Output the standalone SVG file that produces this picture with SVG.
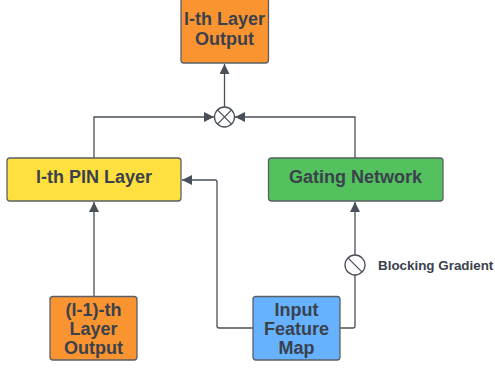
<svg xmlns="http://www.w3.org/2000/svg" width="495" height="368" viewBox="0 0 495 368">
<defs>
<marker id="ah" viewBox="0 0 10 10" refX="10" refY="5" markerWidth="10" markerHeight="10" markerUnits="userSpaceOnUse" orient="auto">
<path d="M0,0 L10,5 L0,10 Z" fill="#4a5059"/>
</marker>
</defs>
<style>
.box{stroke:#5a5f66;stroke-width:1.3}
.t{font-family:"Liberation Sans",Arial,sans-serif;font-weight:bold;font-size:18px;fill:#3a414c;text-anchor:middle}
.c{fill:none;stroke:#4a5059;stroke-width:1.3}
</style>
<g id="connectors">
<path class="c" d="M224.5,107 L224.5,64" marker-end="url(#ah)"/>
<path class="c" d="M94,158 L94,117 L214,117" marker-end="url(#ah)"/>
<path class="c" d="M355,158 L355,117 L235,117" marker-end="url(#ah)"/>
<path class="c" d="M94,296 L94,202" marker-end="url(#ah)"/>
<path class="c" d="M253,328 L219,328 Q217,328 217,326 L217,182 Q217,180 215,180 L182,180" marker-end="url(#ah)"/>
<path class="c" d="M340,328 L353,328 Q355,328 355,326 L355,275"/>
<path class="c" d="M355,255 L355,202" marker-end="url(#ah)"/>
</g>
<g id="mult">
<circle cx="224.5" cy="117" r="10" fill="#fff" stroke="#4a5059" stroke-width="1.3"/>
<path d="M217.4,109.9 L231.6,124.1 M231.6,109.9 L217.4,124.1" stroke="#4a5059" stroke-width="1.3"/>
</g>
<g id="block">
<circle cx="355" cy="265" r="10" fill="#fff" stroke="#4a5059" stroke-width="1.3"/>
<path d="M347.9,257.9 L362.1,272.1" stroke="#4a5059" stroke-width="1.3"/>
<text x="378" y="270" style="font-family:'Liberation Sans',Arial,sans-serif;font-weight:bold;font-size:13.4px;fill:#3a414c">Blocking Gradient</text>
</g>
<g id="out">
<rect class="box" x="181" y="-3" width="87.5" height="66" rx="3" fill="#FA9431"/>
<text class="t" x="224.5" y="24.5">l-th Layer</text>
<text class="t" x="224.5" y="44.5">Output</text>
</g>
<g id="pin">
<rect class="box" x="7" y="158" width="174" height="43" rx="3" fill="#FFE03E"/>
<text class="t" x="94" y="183">l-th PIN Layer</text>
</g>
<g id="gate">
<rect class="box" x="268.5" y="158" width="174.5" height="43" rx="3" fill="#53C25E"/>
<text class="t" x="355.5" y="183">Gating Network</text>
</g>
<g id="prev">
<rect class="box" x="50" y="296.5" width="87" height="63.5" rx="3" fill="#FA9431"/>
<text class="t" x="93.5" y="315.5">(l-1)-th</text>
<text class="t" x="93.5" y="334.5">Layer</text>
<text class="t" x="93.5" y="353.5">Output</text>
</g>
<g id="input">
<rect class="box" x="253" y="296.5" width="87" height="63.5" rx="3" fill="#67B2FF"/>
<text class="t" x="296.5" y="315.5">Input</text>
<text class="t" x="296.5" y="334.5">Feature</text>
<text class="t" x="296.5" y="353.5">Map</text>
</g>
</svg>
